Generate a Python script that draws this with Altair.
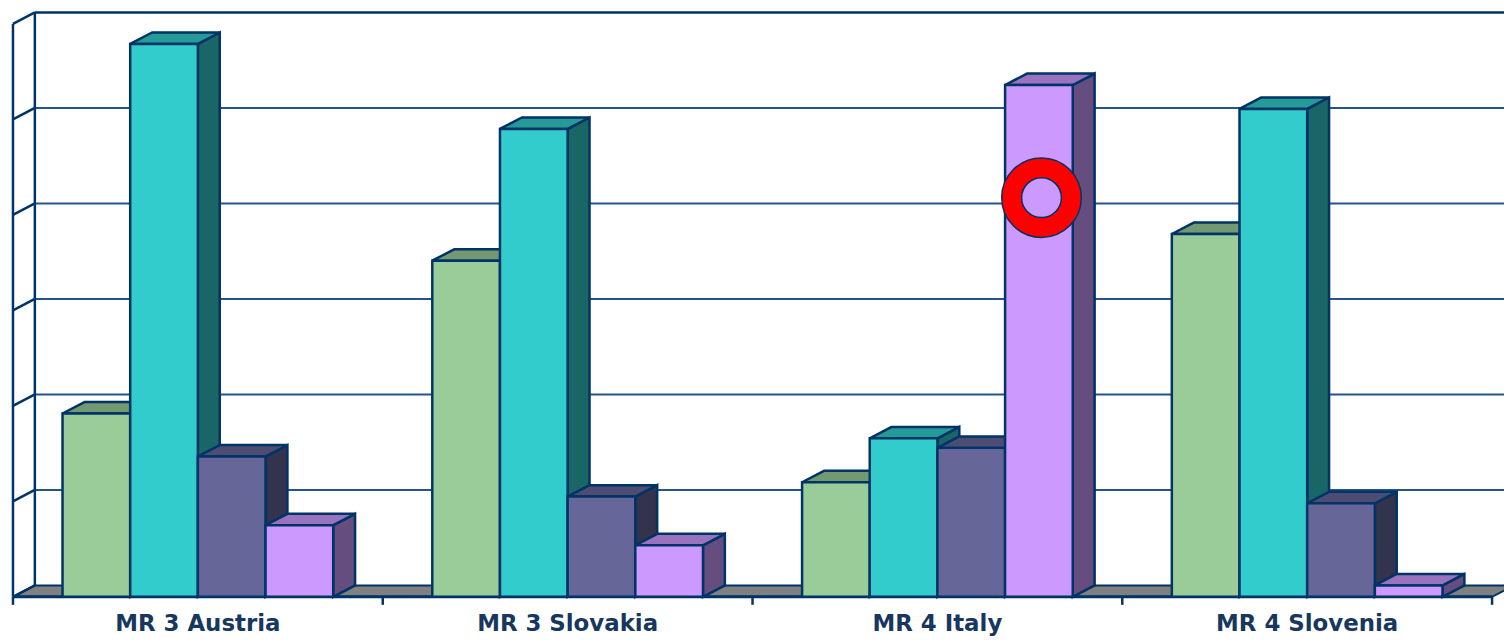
import pandas as pd
import altair as alt

# ---------------- data ----------------
categories = ["MR 3 Austria", "MR 3 Slovakia", "MR 4 Italy", "MR 4 Slovenia"]
series = ["Series 1", "Series 2", "Series 3", "Series 4"]
values_series1 = [1.92, 3.52, 1.20, 3.80]
values_series2 = [5.79, 4.90, 1.66, 5.11]
values_series3 = [1.47, 1.05, 1.56, 0.98]
values_series4 = [0.75, 0.54, 5.36, 0.12]
grid_levels = [1, 2, 3, 4, 5]
wall_top = 6
marker_category = "MR 4 Italy"
marker_series = "Series 4"
marker_value = 4.18

# ---------------- styles ----------------
front_colors = ["#99CC99", "#33CCCC", "#666699", "#CC99FF"]
top_colors = ["#739973", "#269999", "#4D4D73", "#9973BF"]
side_colors = ["#739973", "#1A6666", "#33334D", "#664D80"]
OUTLINE = "#003366"
GRID = "#24548A"
FLOOR = "#808080"
LABEL = "#17375E"

W, H = 1504, 632
CAT_PX = 371.75          # pixels per category
UNIT_PX = 96.0           # pixels per value unit
X0_PX = 5.0              # view x of the front-left corner
Y0_PX = 590.3            # view y of the front floor line
GAP = 0.134              # category fraction before the first bar
BW = 0.183               # bar width as category fraction
DX = 22 / CAT_PX         # depth offset (x, category units)
DY = 11.5 / UNIT_PX      # depth offset (y, value units)
LABEL_DROP_PX = 34.0     # label baseline below the floor line

X_MIN = -X0_PX / CAT_PX
X_MAX = (W - X0_PX) / CAT_PX
Y_MIN = (Y0_PX - H) / UNIT_PX
Y_MAX = Y0_PX / UNIT_PX
xs = alt.Scale(domain=[X_MIN, X_MAX], nice=False, zero=False)
ys = alt.Scale(domain=[Y_MIN, Y_MAX], nice=False, zero=False)

all_values = [values_series1, values_series2, values_series3, values_series4]
ncat = len(categories)

fronts, sides, tops = [], [], []
for k, vals in enumerate(all_values):
    for i, v in enumerate(vals):
        bid = f"{i}-{k}"
        xl = i + GAP + k * BW
        xr = xl + BW
        fronts.append(dict(id=bid, x=xl, x2=xr, y=0.0, y2=v, fill=front_colors[k]))
        sides.append(dict(id=bid, x=xr, y=v, y2=0.0, fill=side_colors[k]))
        sides.append(dict(id=bid, x=xr + DX, y=v + DY, y2=DY, fill=side_colors[k]))
        tops.append(dict(id=bid, y=v, x=xl, x2=xr, fill=top_colors[k]))
        tops.append(dict(id=bid, y=v + DY, x=xl + DX, x2=xr + DX, fill=top_colors[k]))

fronts = pd.DataFrame(fronts)
sides = pd.DataFrame(sides)
tops = pd.DataFrame(tops)

floor = pd.DataFrame([
    dict(y=0.0, x=0.0, x2=float(ncat)),
    dict(y=DY, x=DX, x2=ncat + DX),
])

RIGHT = X_MAX + 0.1
grid_rules = pd.DataFrame([dict(x=DX, x2=RIGHT, y=g + DY, y2=g + DY) for g in grid_levels])
wall_rules = [dict(x=0.0, x2=DX, y=float(g), y2=g + DY) for g in [0] + grid_levels + [wall_top]]
wall_rules += [
    dict(x=0.0, x2=0.0, y=0.0, y2=float(wall_top)),
    dict(x=DX, x2=DX, y=DY, y2=wall_top + DY),
    dict(x=DX, x2=RIGHT, y=wall_top + DY, y2=wall_top + DY),
]
wall_rules = pd.DataFrame(wall_rules)
front_line = pd.DataFrame([dict(x=0.0, x2=float(ncat), y=0.0, y2=0.0)])
ticks = pd.DataFrame([dict(x=float(i), y=0.0, y2=-8 / UNIT_PX) for i in range(ncat + 1)])
labels = pd.DataFrame([
    dict(x=i + 0.5, y=-LABEL_DROP_PX / UNIT_PX, label=c) for i, c in enumerate(categories)
])

mi = categories.index(marker_category)
mk = series.index(marker_series)
marker = pd.DataFrame([dict(x=mi + GAP + mk * BW + BW / 2 + 0.007, y=marker_value)])


def X(f="x"):
    return alt.X(f"{f}:Q", scale=xs, axis=None)


def Y(f="y"):
    return alt.Y(f"{f}:Q", scale=ys, axis=None)


floor_layer = alt.Chart(floor).mark_area(
    orient="horizontal", fill=FLOOR, stroke=OUTLINE, strokeWidth=2
).encode(y=Y(), x=X(), x2="x2:Q")

grid_layer = alt.Chart(grid_rules).mark_rule(stroke=GRID, strokeWidth=2).encode(
    x=X(), x2="x2:Q", y=Y(), y2="y2:Q"
)
wall_layer = alt.Chart(wall_rules).mark_rule(stroke=OUTLINE, strokeWidth=2.5).encode(
    x=X(), x2="x2:Q", y=Y(), y2="y2:Q"
)
front_line_layer = alt.Chart(front_line).mark_rule(stroke=OUTLINE, strokeWidth=3).encode(
    x=X(), x2="x2:Q", y=Y(), y2="y2:Q"
)
tick_layer = alt.Chart(ticks).mark_rule(stroke=OUTLINE, strokeWidth=2.5).encode(
    x=X(), y=Y(), y2="y2:Q"
)
label_layer = alt.Chart(labels).mark_text(
    font="DejaVu Sans", fontWeight="bold", fontSize=23, color=LABEL,
    align="center", baseline="alphabetic"
).encode(x=X(), y=Y(), text="label:N")

side_layer = alt.Chart(sides).mark_area(
    orient="vertical", stroke=OUTLINE, strokeWidth=2.5, strokeJoin="miter"
).encode(
    x=X(), y=Y(), y2="y2:Q", detail="id:N", color=alt.Color("fill:N", scale=None)
)
top_layer = alt.Chart(tops).mark_area(
    orient="horizontal", stroke=OUTLINE, strokeWidth=2.5, strokeJoin="miter"
).encode(
    y=Y(), x=X(), x2="x2:Q", detail="id:N", color=alt.Color("fill:N", scale=None)
)
front_layer = alt.Chart(fronts).mark_rect(stroke=OUTLINE, strokeWidth=2.5).encode(
    x=X(), x2="x2:Q", y=Y(), y2="y2:Q", color=alt.Color("fill:N", scale=None)
)

ring = alt.Chart(marker).mark_point(
    shape="circle", filled=False, stroke="#FF0000", strokeWidth=20, size=3600, opacity=1
).encode(x=X(), y=Y())
ring_outer = alt.Chart(marker).mark_point(
    shape="circle", filled=False, stroke=OUTLINE, strokeWidth=1.5, size=6400, opacity=1
).encode(x=X(), y=Y())
ring_inner = alt.Chart(marker).mark_point(
    shape="circle", filled=False, stroke=OUTLINE, strokeWidth=1.5, size=1600, opacity=1
).encode(x=X(), y=Y())

chart = alt.layer(
    floor_layer,
    grid_layer,
    wall_layer,
    front_line_layer,
    tick_layer,
    label_layer,
    side_layer,
    top_layer,
    front_layer,
    ring,
    ring_outer,
    ring_inner,
).properties(
    width=W,
    height=H,
    autosize=alt.AutoSizeParams(type="none"),
    padding=0,
    background="white",
).configure_view(stroke=None)

chart.save("out.html", embed_options={"renderer": "svg", "actions": False})
